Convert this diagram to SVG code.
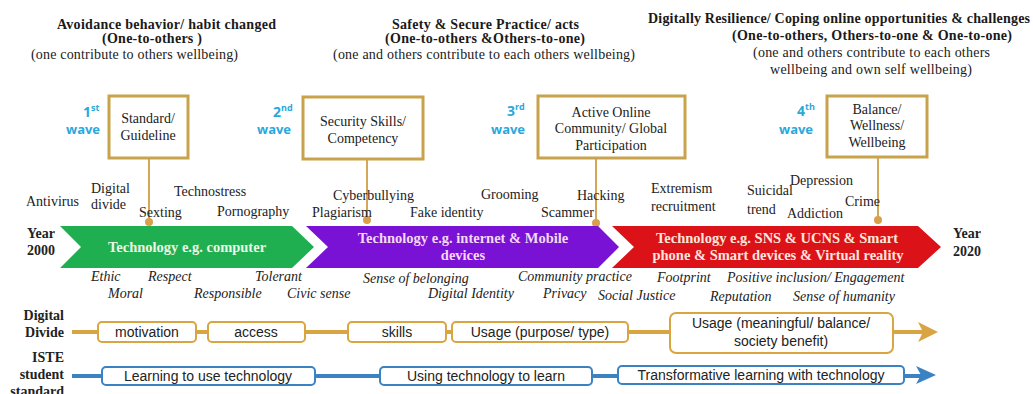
<svg xmlns="http://www.w3.org/2000/svg" width="1033" height="394" viewBox="0 0 1033 394">
  <style>
    .hd { font-family: "Liberation Serif", "Times New Roman", serif; font-size: 14px; fill: #1a1a1a; }
    .hb { font-weight: bold; }
    .term { font-family: "Liberation Serif", "Times New Roman", serif; font-size: 14px; fill: #222; }
    .val { font-family: "Liberation Serif", "Times New Roman", serif; font-size: 14px; font-style: italic; fill: #222; }
    .wave { font-family: "Open Sans", "Liberation Sans", sans-serif; font-size: 13px; font-weight: bold; fill: #2aa8dc; }
    .num { font-size: 14px; }
    .sup { font-size: 9px; }
    .box { fill: #fff; stroke: #c9a24c; stroke-width: 3; }
    .boxt { font-family: "Liberation Serif", "Times New Roman", serif; font-size: 14px; fill: #222; text-anchor: middle; }
    .band { font-family: "Liberation Serif", "Times New Roman", serif; font-size: 14.5px; font-weight: bold; text-anchor: middle; }
    .yr { font-family: "Liberation Serif", "Times New Roman", serif; font-size: 14px; font-weight: bold; fill: #222; }
    .side { font-family: "Liberation Serif", "Times New Roman", serif; font-size: 14px; font-weight: bold; fill: #222; text-anchor: end; }
    .stem { stroke: #c8922e; stroke-width: 1.6; fill: none; }
    .dot { fill: #d8a04c; }
    .gbox { fill: #fff; stroke: #d9a543; stroke-width: 2; }
    .bbox { fill: #fff; stroke: #3a82c2; stroke-width: 2; }
    .st { font-family: "Liberation Sans", Arial, sans-serif; font-size: 14px; fill: #222; text-anchor: middle; }
  </style>

  <!-- phase headings -->
  <g id="heading-1">
    <text class="hd hb" x="57" y="29" textLength="219">Avoidance behavior/ habit changed</text>
    <text class="hd hb" x="102" y="43" textLength="100">(One-to-others )</text>
    <text class="hd" x="31" y="59" textLength="207">(one contribute to others wellbeing)</text>
  </g>
  <g id="heading-2">
    <text class="hd hb" x="392" y="29" textLength="187">Safety &amp; Secure Practice/ acts</text>
    <text class="hd hb" x="385" y="43" textLength="200">(One-to-others &amp;Others-to-one)</text>
    <text class="hd" x="333" y="59" textLength="302">(one and others contribute to each others wellbeing)</text>
  </g>
  <g id="heading-3">
    <text class="hd hb" x="648" y="23" textLength="382">Digitally Resilience/ Coping online opportunities &amp; challenges</text>
    <text class="hd hb" x="732" y="40" textLength="280">(One-to-others, Others-to-one &amp; One-to-one)</text>
    <text class="hd" x="753" y="57" textLength="237">(one and others contribute to each others</text>
    <text class="hd" x="770" y="74" textLength="202">wellbeing and own self wellbeing)</text>
  </g>

  <!-- connectors: box stems down to the timeline, and the two progression lines -->
  <g id="connectors">
    <line class="stem" x1="149" y1="158" x2="149" y2="222"/>
    <circle class="dot" cx="149" cy="222" r="4"/>
    <line class="stem" x1="367" y1="159" x2="367" y2="220"/>
    <circle class="dot" cx="367" cy="220" r="4"/>
    <line class="stem" x1="596" y1="158" x2="596" y2="223"/>
    <circle class="dot" cx="596" cy="223" r="4"/>
    <line class="stem" x1="878" y1="157" x2="878" y2="220"/>
    <circle class="dot" cx="878" cy="220" r="4"/>

    <line x1="72" y1="332" x2="926" y2="332" stroke="#d9a543" stroke-width="4"/>
    <path d="M938,332 L918,322 L923,332 L918,342 Z" fill="#d9a543"/>
    <line x1="72" y1="376" x2="924" y2="376" stroke="#3a82c2" stroke-width="4"/>
    <path d="M936,375 L916,366 L921,375 L916,384 Z" fill="#3a82c2"/>
  </g>

  <!-- wave boxes -->
  <g id="wave-1">
    <text class="wave" x="83" y="117"><tspan class="num">1</tspan><tspan class="sup" dy="-6">st</tspan></text>
    <text class="wave" x="66" y="134">wave</text>
    <rect class="box" x="109" y="96" width="79" height="62"/>
    <text class="boxt" x="148" y="123">Standard/</text>
    <text class="boxt" x="148" y="140">Guideline</text>
  </g>
  <g id="wave-2">
    <text class="wave" x="273" y="117"><tspan class="num">2</tspan><tspan class="sup" dy="-6">nd</tspan></text>
    <text class="wave" x="257" y="134">wave</text>
    <rect class="box" x="303" y="97" width="120" height="62"/>
    <text class="boxt" x="363" y="126">Security Skills/</text>
    <text class="boxt" x="363" y="143">Competency</text>
  </g>
  <g id="wave-3">
    <text class="wave" x="507" y="116"><tspan class="num">3</tspan><tspan class="sup" dy="-6">rd</tspan></text>
    <text class="wave" x="491" y="134">wave</text>
    <rect class="box" x="538" y="96" width="147" height="62"/>
    <text class="boxt" x="611" y="117">Active Online</text>
    <text class="boxt" x="611" y="133">Community/ Global</text>
    <text class="boxt" x="611" y="150">Participation</text>
  </g>
  <g id="wave-4">
    <text class="wave" x="797" y="116"><tspan class="num">4</tspan><tspan class="sup" dy="-6">th</tspan></text>
    <text class="wave" x="779" y="134">wave</text>
    <rect class="box" x="827" y="96" width="100" height="61"/>
    <text class="boxt" x="877" y="114">Balance/</text>
    <text class="boxt" x="877" y="130">Wellness/</text>
    <text class="boxt" x="877" y="147">Wellbeing</text>
  </g>

  <!-- risks above the timeline -->
  <g id="risks">
    <text class="term" x="26" y="206">Antivirus</text>
    <text class="term" x="91" y="193">Digital</text>
    <text class="term" x="91" y="209">divide</text>
    <text class="term" x="174" y="196">Technostress</text>
    <text class="term" x="139" y="217">Sexting</text>
    <text class="term" x="217" y="216">Pornography</text>
    <text class="term" x="333" y="200">Cyberbullying</text>
    <text class="term" x="312" y="217">Plagiarism</text>
    <text class="term" x="410" y="217">Fake identity</text>
    <text class="term" x="481" y="199">Grooming</text>
    <text class="term" x="577" y="200">Hacking</text>
    <text class="term" x="541" y="217">Scammer</text>
    <text class="term" x="651" y="193">Extremism</text>
    <text class="term" x="651" y="211">recruitment</text>
    <text class="term" x="747" y="195">Suicidal</text>
    <text class="term" x="747" y="214">trend</text>
    <text class="term" x="790" y="185">Depression</text>
    <text class="term" x="787" y="218">Addiction</text>
    <text class="term" x="845" y="206">Crime</text>
  </g>

  <!-- technology timeline -->
  <g id="timeline">
    <text class="yr" x="27" y="238">Year</text>
    <text class="yr" x="27" y="255">2000</text>
    <path d="M60,226 L292,226 L314,247 L292,268 L60,268 L81,247 Z" fill="#1faf50"/>
    <text class="band" x="187" y="252" fill="#eef5e4">Technology e.g. computer</text>
    <path d="M306,226 L598,226 L619,247 L598,268 L306,268 L328,247 Z" fill="#7a12d6"/>
    <text class="band" x="463" y="243" fill="#f2d8f2">Technology e.g. internet  &amp; Mobile</text>
    <text class="band" x="463" y="260" fill="#f2d8f2">devices</text>
    <path d="M612,226 L918,226 L941,247 L918,268 L612,268 L634,247 Z" fill="#dc1219"/>
    <text class="band" x="777" y="243" fill="#fbe6dc">Technology e.g. SNS &amp; UCNS &amp; Smart</text>
    <text class="band" x="778" y="260" fill="#fbe6dc">phone &amp; Smart devices &amp; Virtual reality</text>
    <text class="yr" x="953" y="238">Year</text>
    <text class="yr" x="953" y="256">2020</text>
  </g>

  <!-- values below the timeline -->
  <g id="values">
    <text class="val" x="91" y="281">Ethic</text>
    <text class="val" x="148" y="281">Respect</text>
    <text class="val" x="255" y="281">Tolerant</text>
    <text class="val" x="108" y="298">Moral</text>
    <text class="val" x="194" y="298">Responsible</text>
    <text class="val" x="287" y="298">Civic sense</text>
    <text class="val" x="363" y="283">Sense of belonging</text>
    <text class="val" x="428" y="298">Digital Identity</text>
    <text class="val" x="518" y="281">Community practice</text>
    <text class="val" x="543" y="298">Privacy</text>
    <text class="val" x="598" y="300">Social Justice</text>
    <text class="val" x="657" y="282">Footprint</text>
    <text class="val" x="727" y="282">Positive inclusion/ Engagement</text>
    <text class="val" x="710" y="301">Reputation</text>
    <text class="val" x="793" y="301">Sense of humanity</text>
  </g>

  <!-- digital divide row -->
  <g id="digital-divide">
    <text class="side" x="64" y="320">Digital</text>
    <text class="side" x="64" y="337">Divide</text>
    <rect class="gbox" x="98" y="322" width="98" height="20" rx="4"/>
    <text class="st" x="147" y="337">motivation</text>
    <rect class="gbox" x="208" y="322" width="97" height="20" rx="4"/>
    <text class="st" x="256" y="337">access</text>
    <rect class="gbox" x="348" y="322" width="98" height="20" rx="4"/>
    <text class="st" x="397" y="337">skills</text>
    <rect class="gbox" x="452" y="322" width="176" height="20" rx="4"/>
    <text class="st" x="540" y="337">Usage (purpose/ type)</text>
    <rect class="gbox" x="670" y="313" width="223" height="40" rx="6"/>
    <text class="st" x="781" y="328">Usage (meaningful/  balance/</text>
    <text class="st" x="781" y="346">society benefit)</text>
  </g>

  <!-- ISTE student standard row -->
  <g id="iste-standard">
    <text class="side" x="64" y="362">ISTE</text>
    <text class="side" x="64" y="379">student</text>
    <text class="side" x="64" y="396">standard</text>
    <rect class="bbox" x="102" y="367" width="213" height="18" rx="4"/>
    <text class="st" x="208" y="381">Learning  to use technology</text>
    <rect class="bbox" x="380" y="367" width="212" height="18" rx="4"/>
    <text class="st" x="486" y="381">Using technology to learn</text>
    <rect class="bbox" x="618" y="366" width="286" height="18" rx="4"/>
    <text class="st" x="761" y="380">Transformative learning  with  technology</text>
  </g>
</svg>
